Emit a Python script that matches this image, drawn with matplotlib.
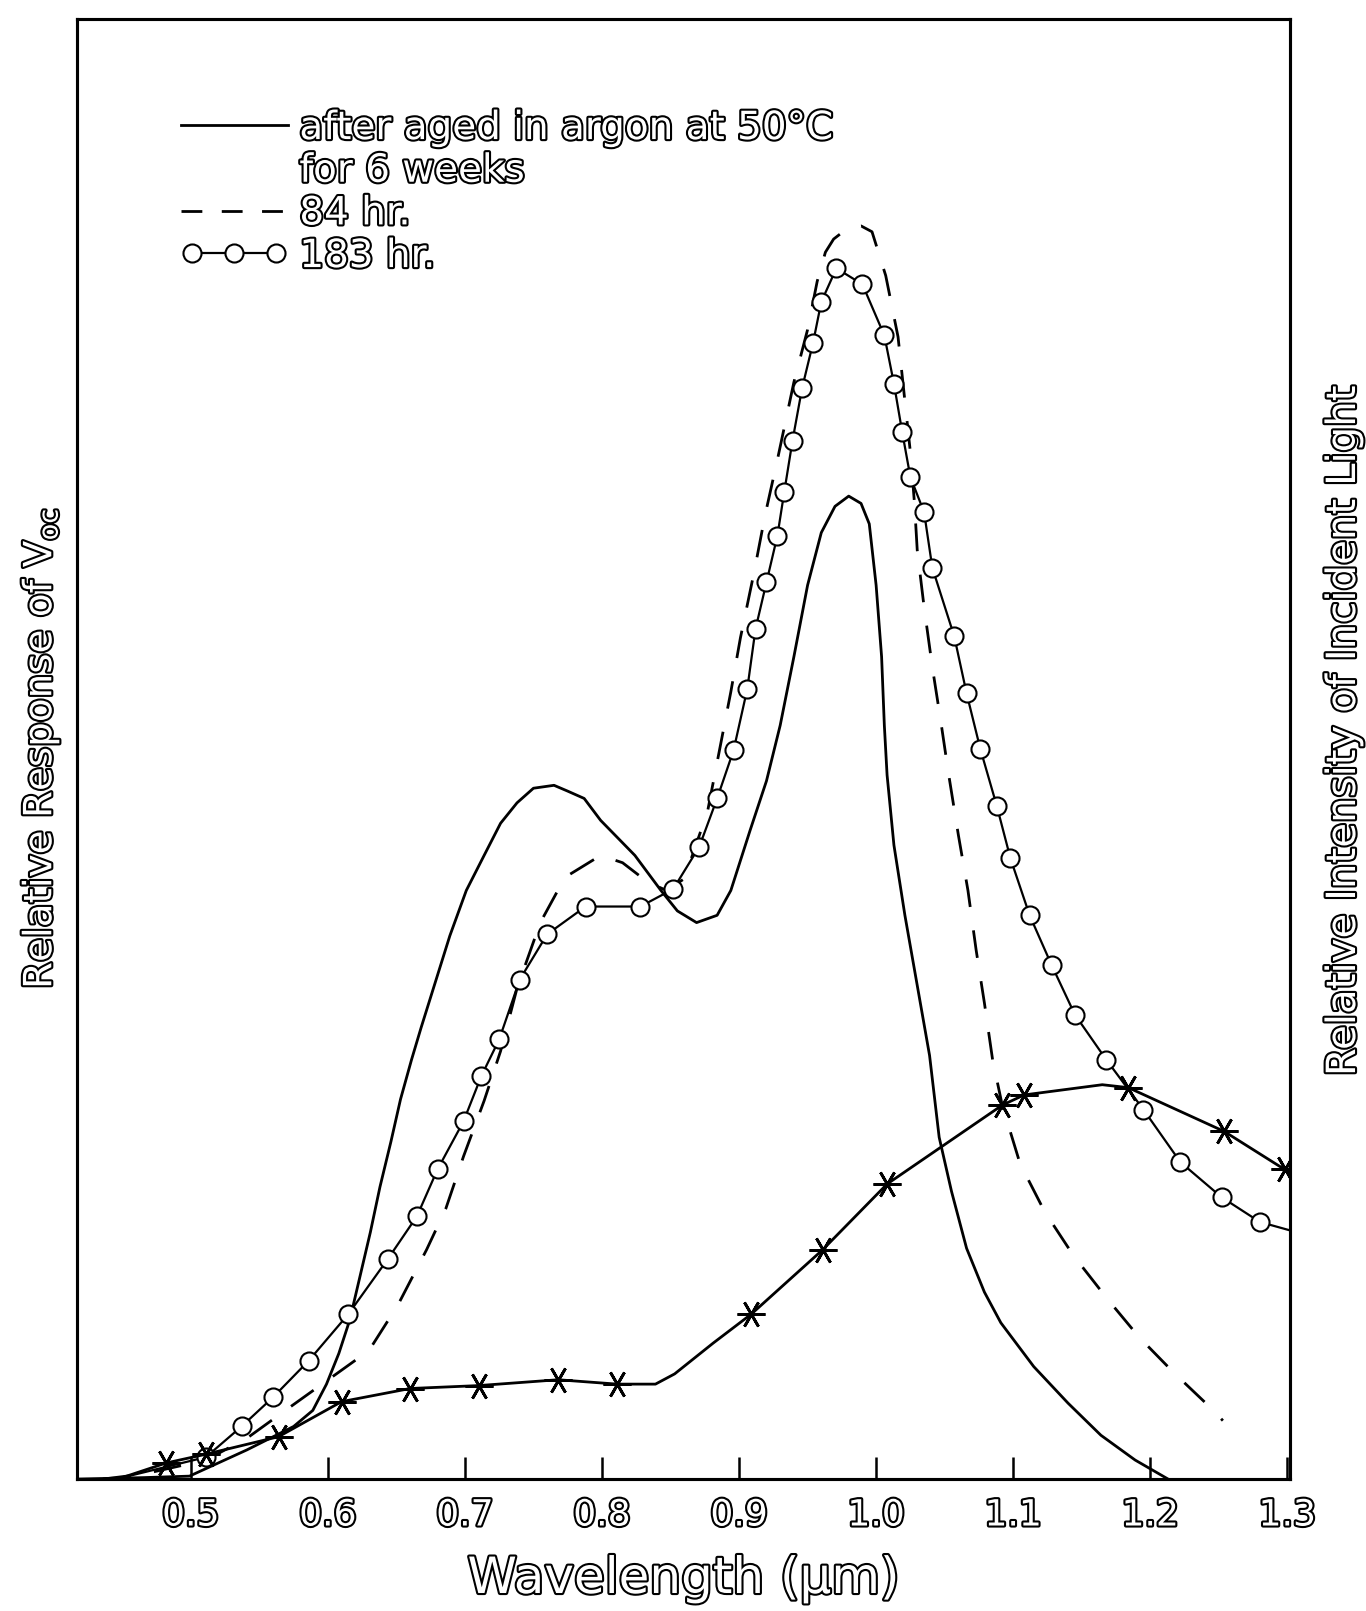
import matplotlib
matplotlib.use("Agg")
import matplotlib.pyplot as plt
import matplotlib.patheffects as pe
from matplotlib.lines import Line2D
from matplotlib.legend_handler import HandlerLine2D

# wavelength (um) / relative response (axis top = 100)
wl_aged = [0.417, 0.466, 0.499, 0.541, 0.575, 0.589, 0.599, 0.608, 0.616, 0.623,
           0.631, 0.638, 0.646, 0.653, 0.661, 0.668, 0.677, 0.689, 0.701, 0.714,
           0.726, 0.738, 0.750, 0.765, 0.775, 0.787, 0.799, 0.824, 0.843, 0.855,
           0.869, 0.884, 0.894, 0.908, 0.920, 0.930, 0.940, 0.950, 0.960, 0.970,
           0.980, 0.989, 0.995, 1.000, 1.004, 1.006, 1.008, 1.013, 1.021, 1.030,
           1.039, 1.046, 1.055, 1.066, 1.079, 1.091, 1.115, 1.140, 1.164, 1.189,
           1.213]
resp_aged = [0.0, 0.1, 0.2, 2.0, 3.6, 4.7, 6.5, 8.6, 10.9, 13.7,
             16.9, 20.0, 23.1, 26.0, 28.7, 30.9, 33.6, 37.2, 40.3, 42.7,
             44.9, 46.3, 47.3, 47.5, 47.1, 46.6, 45.1, 42.7, 40.3, 38.9,
             38.1, 38.6, 40.3, 44.4, 47.8, 51.6, 56.3, 61.2, 64.8, 66.6,
             67.3, 66.8, 65.4, 61.2, 56.3, 51.6, 48.2, 43.4, 38.6, 33.8,
             29.0, 23.4, 19.7, 15.8, 12.8, 10.7, 7.7, 5.2, 3.0, 1.3,
             0.0]

wl_84 = [0.436, 0.466, 0.511, 0.541, 0.569, 0.630, 0.651, 0.672, 0.686, 0.699,
         0.714, 0.726, 0.738, 0.755, 0.773, 0.799, 0.815, 0.833, 0.847, 0.860,
         0.877, 0.894, 0.901, 0.911, 0.919, 0.928, 0.940, 0.950, 0.957, 0.963,
         0.969, 0.980, 0.989, 0.997, 1.007, 1.016, 1.021, 1.025, 1.028, 1.030,
         1.035, 1.041, 1.047, 1.053, 1.060, 1.067, 1.073, 1.079, 1.085, 1.092,
         1.105, 1.123, 1.144, 1.169, 1.192, 1.217, 1.245, 1.253]
resp_84 = [0.0, 0.35, 1.3, 2.8, 4.7, 8.8, 11.9, 15.7, 18.5, 22.1,
           25.9, 29.3, 33.6, 38.1, 41.2, 42.7, 42.2, 40.9, 40.3, 41.1,
           45.7, 53.9, 57.6, 62.1, 66.0, 69.8, 75.1, 78.7, 82.0, 84.0,
           84.9, 85.7, 85.8, 85.4, 82.4, 78.2, 73.8, 70.3, 66.8, 63.6,
           59.7, 55.6, 52.0, 48.2, 44.1, 40.3, 36.2, 32.6, 28.7, 25.6,
           21.6, 18.3, 15.3, 12.3, 9.7, 7.3, 4.8, 4.0]

wl_183 = [0.450, 0.511, 0.537, 0.560, 0.586, 0.615, 0.644, 0.665, 0.680, 0.699,
          0.712, 0.725, 0.740, 0.760, 0.788, 0.828, 0.852, 0.871, 0.884, 0.896,
          0.906, 0.912, 0.920, 0.928, 0.933, 0.939, 0.946, 0.954, 0.960, 0.971,
          0.990, 1.006, 1.013, 1.019, 1.025, 1.035, 1.041, 1.057, 1.066, 1.076,
          1.088, 1.098, 1.112, 1.128, 1.145, 1.168, 1.195, 1.222, 1.252, 1.280,
          1.303]
resp_183 = [0.1, 1.5, 3.6, 5.6, 8.1, 11.3, 15.1, 18.0, 21.2, 24.5,
            27.6, 30.1, 34.2, 37.3, 39.2, 39.2, 40.4, 43.3, 46.6, 49.9,
            54.1, 58.2, 61.4, 64.6, 67.6, 71.1, 74.7, 77.8, 80.6, 82.9,
            81.8, 78.3, 75.0, 71.7, 68.6, 66.2, 62.4, 57.7, 53.8, 50.0,
            46.1, 42.5, 38.6, 35.2, 31.8, 28.7, 25.3, 21.7, 19.3, 17.6,
            17.0]

# relative intensity of incident light (right axis)
wl_light = [0.450, 0.482, 0.511, 0.564, 0.610, 0.660, 0.710, 0.768, 0.811, 0.839,
            0.853, 0.881, 0.909, 0.961, 1.008, 1.092, 1.108, 1.165, 1.184, 1.254,
            1.298, 1.303]
light = [0.1, 1.1, 1.7, 2.9, 5.3, 6.2, 6.4, 6.8, 6.5, 6.5,
         7.2, 9.3, 11.3, 15.7, 20.2, 25.6, 26.3, 27.0, 26.8, 23.8,
         21.2, 20.9]
light_marked = [1, 2, 3, 4, 5, 6, 7, 8, 12, 13, 14, 15, 16, 18, 19, 20]

xticks = [0.5, 0.6, 0.7, 0.8, 0.9, 1.0, 1.1, 1.2, 1.3]
xticklabels = ["0.5", "0.6", "0.7", "0.8", "0.9", "1.0", "1.1", "1.2", "1.3"]

plt.rcParams["font.family"] = ["DejaVu Sans"]
hollow = [pe.withStroke(linewidth=3, foreground="black")]

fig = plt.figure(figsize=(13.66, 16.11), dpi=100)
ax = fig.add_axes([0.0564, 0.0819, 0.888, 0.9066])
ax2 = ax.twinx()

lw = 2.0
ax.plot(wl_aged, resp_aged, color="black", lw=lw)
ax.plot(wl_84, resp_84, color="black", lw=lw, linestyle=(0, (10, 8.5)))
ax.plot(wl_183, resp_183, color="black", lw=lw * 0.8, marker="o", ms=13,
        mfc="white", mec="black", mew=1.5, markevery=range(1, len(wl_183) - 1))
ax2.plot(wl_light, light, color="black", lw=lw, marker=(6, 2, 30), ms=20,
         mew=2.0, mec="black", markevery=light_marked)

for a in (ax, ax2):
    a.set_xlim(0.417, 1.302)
    a.set_ylim(0, 100)
    a.set_yticks([])
    for s in a.spines.values():
        s.set_linewidth(2.2)

ax.set_xticks(xticks)
ax.set_xticklabels(xticklabels)
ax.tick_params(axis="x", which="major", bottom=True, top=False, direction="in",
               length=16, width=1.8, color="black", pad=14, labelsize=26,
               labelcolor="white")
for t in ax.get_xticklabels():
    t.set_path_effects(hollow)

ax.set_xlabel("Wavelength (\u03bcm)", fontsize=36, color="white", path_effects=hollow)
ax.xaxis.set_label_coords(0.5, -0.052)
ax.set_ylabel(r"Relative Response of V$_{\mathrm{oc}}$", fontsize=28, color="white",
              path_effects=hollow)
ax.yaxis.set_label_coords(-0.013, 0.5)
ax2.set_ylabel("Relative Intensity of Incident Light", fontsize=29, color="white",
               path_effects=hollow)
ax2.yaxis.set_label_coords(1.028, 0.512)

h_solid = Line2D([], [], color="black", lw=lw)
h_blank = Line2D([], [], lw=0)
h_dash = Line2D([], [], color="black", lw=lw, linestyle=(0, (7.5, 7)))
h_circ = Line2D([], [], color="black", lw=lw * 0.8, marker="o", ms=13, mfc="white",
                mec="black", mew=1.5)
labels = ["after aged in argon at 50\u00b0C", "for 6 weeks", "84 hr.", "183 hr."]
leg = ax.legend([h_solid, h_blank, h_dash, h_circ], labels, loc="upper left",
                bbox_to_anchor=(0.0855, 0.938), frameon=False, fontsize=28,
                handlelength=2.75, handletextpad=0.3, numpoints=3,
                labelspacing=0.12, borderpad=0, borderaxespad=0,
                handler_map={h_solid: HandlerLine2D(marker_pad=0),
                             h_dash: HandlerLine2D(marker_pad=0)})
for t in leg.get_texts():
    t.set_color("white")
    t.set_path_effects(hollow)

fig.savefig("out.png", dpi=100)
